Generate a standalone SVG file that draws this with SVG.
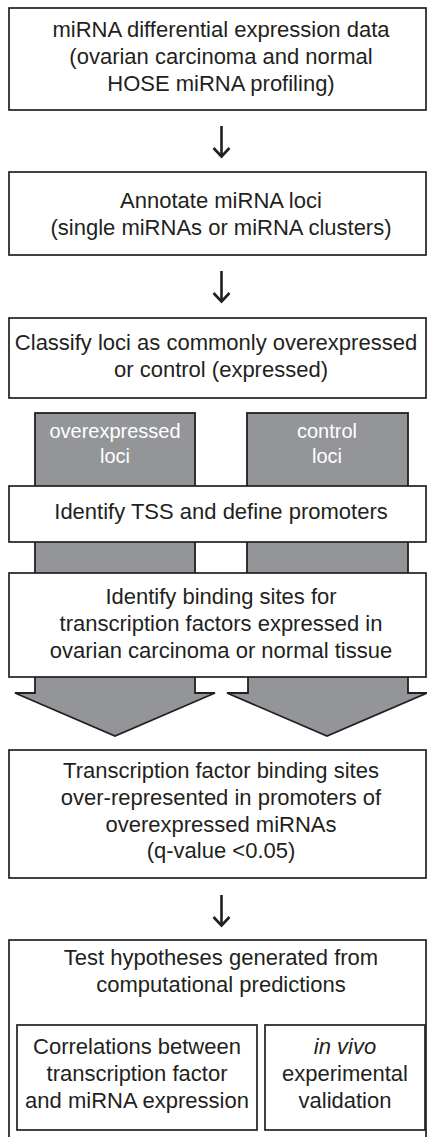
<svg xmlns="http://www.w3.org/2000/svg" width="427" height="1137" viewBox="0 0 427 1137">
  <style>
    .box { fill: #ffffff; stroke: #231f20; stroke-width: 1.7; }
    .col { fill: #939598; stroke: #231f20; stroke-width: 1.8; }
    .big { fill: #939598; stroke: #231f20; stroke-width: 1.8; stroke-linejoin: miter; }
    .t { font-family: "Liberation Sans", Arial, sans-serif; font-size: 22px; fill: #231f20; text-anchor: middle; }
    .w { font-family: "Liberation Sans", Arial, sans-serif; font-size: 20px; fill: #ffffff; text-anchor: middle; }
    .arr { fill: none; stroke: #231f20; stroke-width: 2.6; stroke-linecap: butt; }
  </style>

  <!-- branch columns (drawn first so the step boxes sit on top) -->
  <g id="columns">
    <rect class="col" x="35" y="413" width="160" height="170"/>
    <rect class="col" x="247" y="413" width="161" height="170"/>
    <text class="w" x="115" y="438">overexpressed</text>
    <text class="w" x="115" y="463">loci</text>
    <text class="w" x="327" y="438">control</text>
    <text class="w" x="327" y="463">loci</text>
  </g>

  <g id="connectors">
    <!-- wide block arrows from the binding-site step -->
    <polygon class="big" points="35,670 35,693 15,693 115,736 215,693 195,693 195,670"/>
    <polygon class="big" points="248,670 248,693 227,693 327,736 427,693 408,693 408,670"/>
    <!-- simple down arrows -->
    <g class="arr">
      <line x1="221.5" y1="126" x2="221.5" y2="156"/>
      <polyline points="213.5,148 221.5,156.5 229.5,148"/>
      <line x1="221.5" y1="271" x2="221.5" y2="301"/>
      <polyline points="213.5,293 221.5,301.5 229.5,293"/>
      <line x1="221.5" y1="895" x2="221.5" y2="925"/>
      <polyline points="213.5,917 221.5,925.5 229.5,917"/>
    </g>
  </g>

  <g id="n1">
    <rect class="box" x="9" y="8" width="417" height="102"/>
    <text class="t" x="221" y="37">miRNA differential expression data</text>
    <text class="t" x="221" y="64">(ovarian carcinoma and normal</text>
    <text class="t" x="221" y="91">HOSE miRNA profiling)</text>
  </g>

  <g id="n2">
    <rect class="box" x="9" y="172" width="417" height="83"/>
    <text class="t" x="221" y="208">Annotate miRNA loci</text>
    <text class="t" x="221" y="235">(single miRNAs or miRNA clusters)</text>
  </g>

  <g id="n3">
    <rect class="box" x="9" y="318" width="417" height="80"/>
    <text class="t" x="216" y="350">Classify loci as commonly overexpressed</text>
    <text class="t" x="221" y="377">or control (expressed)</text>
  </g>

  <g id="n4">
    <rect class="box" x="9" y="486" width="417" height="56"/>
    <text class="t" x="221" y="519">Identify TSS and define promoters</text>
  </g>

  <g id="n5">
    <rect class="box" x="9" y="573" width="417" height="104"/>
    <text class="t" x="221" y="604">Identify binding sites for</text>
    <text class="t" x="221" y="631">transcription factors expressed in</text>
    <text class="t" x="221" y="658">ovarian carcinoma or normal tissue</text>
  </g>

  <g id="n6">
    <rect class="box" x="9" y="750" width="417" height="128"/>
    <text class="t" x="221" y="778">Transcription factor binding sites</text>
    <text class="t" x="221" y="805">over-represented in promoters of</text>
    <text class="t" x="221" y="832">overexpressed miRNAs</text>
    <text class="t" x="221" y="858">(q-value &lt;0.05)</text>
  </g>

  <g id="n7">
    <rect class="box" x="9" y="940" width="417" height="210"/>
    <text class="t" x="221" y="965">Test hypotheses generated from</text>
    <text class="t" x="221" y="992">computational predictions</text>
  </g>

  <g id="n7a">
    <rect class="box" x="17" y="1025" width="240" height="105"/>
    <text class="t" x="137" y="1054">Correlations between</text>
    <text class="t" x="137" y="1081">transcription factor</text>
    <text class="t" x="137" y="1108">and miRNA expression</text>
  </g>

  <g id="n7b">
    <rect class="box" x="265" y="1025" width="160" height="105"/>
    <text class="t" x="345" y="1054" font-style="italic">in vivo</text>
    <text class="t" x="345" y="1081">experimental</text>
    <text class="t" x="345" y="1108">validation</text>
  </g>
</svg>
